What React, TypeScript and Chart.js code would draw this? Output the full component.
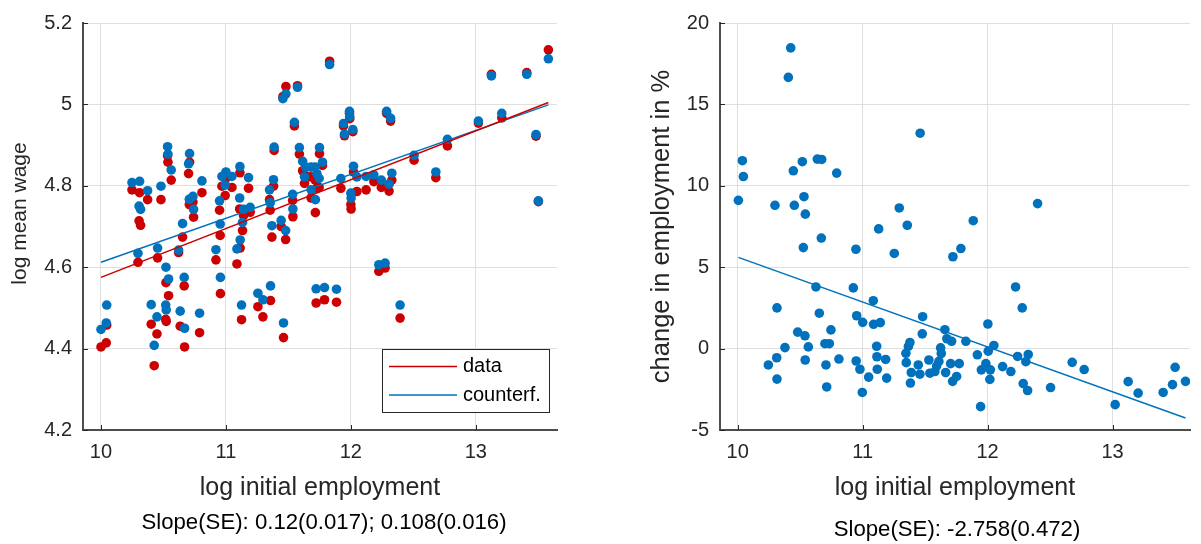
import React, { useEffect, useRef } from 'react';
import { Chart, registerables } from 'chart.js';

Chart.register(...registerables);

const FONT = "'Liberation Sans', Arial, Helvetica, sans-serif";
const TEXT_COLOR = '#262626';
const AXIS_LINE = '#4d4d4d';
const GRID_COLOR = '#dfdfdf';
const RED = 'rgb(204,0,0)';
const BLUE = 'rgb(0,114,189)';

// ---------------- Left panel: log mean wage vs log initial employment
const logEmpLeft = [
  10.000, 10.042, 10.046, 10.248, 10.296, 10.309, 10.305, 10.317, 10.373, 10.402,
  10.426, 10.448, 10.453, 10.480, 10.520, 10.518, 10.522, 10.533, 10.536, 10.541,
  10.562, 10.621, 10.634, 10.653, 10.666, 10.669, 10.709, 10.701, 10.707, 10.736,
  10.741, 10.789, 10.808, 10.920, 10.949, 10.954, 10.956, 10.968, 11.000, 10.994,
  11.048, 11.088, 11.112, 11.110, 11.114, 11.125, 11.133, 11.141, 11.194, 11.181,
  11.256, 11.296, 11.349, 11.354, 11.357, 11.368, 11.381, 11.386, 11.442, 11.461,
  11.478, 11.480, 11.456, 11.534, 11.536, 11.548, 11.573, 11.588, 11.614, 11.629,
  11.638, 11.680, 11.714, 11.728, 11.746, 11.682, 11.716, 11.722, 11.749, 11.773,
  11.789, 11.830, 11.885, 11.920, 11.941, 11.949, 11.989, 11.991, 12.016, 12.000,
  12.002, 12.021, 12.048, 12.122, 12.184, 12.224, 12.244, 12.274, 12.286, 12.306,
  12.318, 12.328, 12.394, 12.506, 12.680, 12.773, 13.021, 13.125, 13.208, 13.408,
  13.482, 13.501, 13.581,
];

const wageData = [
  4.404, 4.414, 4.458, 4.790, 4.612, 4.783, 4.714, 4.703, 4.766, 4.460,
  4.358, 4.436, 4.623, 4.766, 4.562, 4.472, 4.467, 4.874, 4.858, 4.530,
  4.814, 4.636, 4.455, 4.674, 4.554, 4.404, 4.858, 4.830, 4.754, 4.760,
  4.723, 4.439, 4.783, 4.618, 4.740, 4.678, 4.535, 4.799, 4.818, 4.776,
  4.796, 4.608, 4.832, 4.743, 4.647, 4.471, 4.690, 4.727, 4.735, 4.794,
  4.503, 4.478, 4.766, 4.740, 4.518, 4.674, 4.799, 4.887, 4.700, 4.427,
  4.668, 5.044, 5.019, 4.764, 4.724, 4.947, 5.046, 4.878, 4.837, 4.806,
  4.825, 4.822, 4.814, 4.794, 4.796, 4.770, 4.734, 4.512, 4.879, 4.850,
  4.520, 5.106, 4.514, 4.794, 4.947, 4.923, 4.978, 4.965, 4.933, 4.754,
  4.743, 4.834, 4.786, 4.790, 4.810, 4.590, 4.796, 4.598, 4.978, 4.787,
  4.959, 4.814, 4.475, 4.863, 4.820, 4.898, 4.954, 5.074, 4.967, 5.078,
  4.922, 4.761, 5.134,
];

const wageCounterf = [
  4.447, 4.463, 4.507, 4.808, 4.634, 4.811, 4.750, 4.742, 4.788, 4.508,
  4.408, 4.478, 4.647, 4.799, 4.600, 4.507, 4.495, 4.896, 4.878, 4.571,
  4.839, 4.642, 4.492, 4.707, 4.575, 4.450, 4.879, 4.854, 4.767, 4.774,
  4.742, 4.487, 4.812, 4.643, 4.763, 4.706, 4.575, 4.823, 4.834, 4.802,
  4.823, 4.645, 4.847, 4.770, 4.667, 4.507, 4.710, 4.742, 4.747, 4.820,
  4.536, 4.520, 4.790, 4.758, 4.554, 4.702, 4.815, 4.895, 4.715, 4.463,
  4.690, 5.026, 5.014, 4.779, 4.743, 4.956, 5.042, 4.894, 4.860, 4.822,
  4.846, 4.846, 4.846, 4.830, 4.818, 4.790, 4.766, 4.547, 4.894, 4.858,
  4.550, 5.098, 4.546, 4.818, 4.953, 4.927, 4.983, 4.970, 4.938, 4.782,
  4.770, 4.848, 4.822, 4.823, 4.827, 4.606, 4.814, 4.610, 4.983, 4.804,
  4.966, 4.831, 4.507, 4.875, 4.834, 4.914, 4.959, 5.070, 4.978, 5.074,
  4.926, 4.763, 5.112,
];

// fitted lines: [slope, intercept]
const fitData = [0.12, 3.375];
const fitCounterf = [0.108, 3.532];

const leftXTicks = [10, 11, 12, 13];
const leftXTickLabels = ['10', '11', '12', '13'];
const leftYTicks = [4.2, 4.4, 4.6, 4.8, 5.0, 5.2];
const leftYTickLabels = ['4.2', '4.4', '4.6', '4.8', '5', '5.2'];
const leftXRange = [9.856, 13.65];
const leftYRange = [4.2, 5.2];

// ---------------- Right panel: change in employment in %
const logEmpRight = [
  10.005, 10.037, 10.045, 10.245, 10.298, 10.312, 10.314, 10.314, 10.378, 10.405,
  10.424, 10.445, 10.453, 10.480, 10.517, 10.525, 10.530, 10.538, 10.540, 10.541,
  10.565, 10.626, 10.637, 10.653, 10.672, 10.669, 10.698, 10.706, 10.712, 10.733,
  10.746, 10.792, 10.810, 10.925, 10.946, 10.948, 10.952, 10.978, 10.997, 11.000,
  11.048, 11.085, 11.087, 11.112, 11.114, 11.117, 11.128, 11.141, 11.184, 11.192,
  11.253, 11.293, 11.346, 11.349, 11.366, 11.378, 11.389, 11.382, 11.357, 11.445,
  11.458, 11.460, 11.480, 11.477, 11.530, 11.538, 11.578, 11.592, 11.610, 11.624,
  11.629, 11.658, 11.664, 11.674, 11.704, 11.712, 11.720, 11.722, 11.752, 11.773,
  11.786, 11.826, 11.885, 11.918, 11.944, 11.950, 11.986, 12.002, 12.005, 12.022,
  12.018, 12.050, 12.120, 12.186, 12.224, 12.240, 12.277, 12.285, 12.306, 12.320,
  12.325, 12.400, 12.504, 12.677, 12.773, 13.021, 13.125, 13.205, 13.405, 13.480,
  13.501, 13.584,
];

const empChange = [
  9.105, 11.54, 10.57, -1.003, 8.803, -0.562, -1.873, 2.501, 0.060, 16.66,
  18.47, 10.92, 8.803, 1.009, 11.48, 6.205, 9.329, 0.785, -0.701, 8.259,
  0.103, 3.788, 11.64, 2.175, 11.62, 6.791, 0.302, -1.003, -2.356, 0.302,
  1.148, 10.78, -0.640, 3.728, 6.102, -0.761, 2.018, -1.269, -2.695, 1.613,
  -1.752, 2.942, 1.492, 0.145, -0.501, -1.269, 7.353, 1.595, -0.665, -1.813,
  5.843, 8.640, -0.290, -0.864, 0.133, 0.375, -1.468, -2.115, 7.577, -1.003,
  -1.571, 13.23, 1.958, 0.906, -0.701, -1.511, -1.408, -1.075, -0.785, 0.042,
  -0.302, 1.160, -1.468, 0.604, -0.924, 0.447, -2.012, 5.643, -1.710, -0.924,
  6.145, 0.447, 7.855, -0.381, -3.565, -1.305, -0.924, 1.511, -0.157, -1.305,
  -1.891, 0.193, -1.106, -1.408, 3.788, -0.483, 2.501, -2.151, -0.804, -2.574,
  -0.363, 8.906, -2.393, -0.846, -1.287, -3.444, -2.030, -2.737, -2.695, -2.211,
  -1.148, -2.012,
];

const fitChange = [-2.758, 33.2];

const rightXTicks = [10, 11, 12, 13];
const rightXTickLabels = ['10', '11', '12', '13'];
const rightYTicks = [-5, 0, 5, 10, 15, 20];
const rightYTickLabels = ['-5', '0', '5', '10', '15', '20'];
const rightXRange = [9.858, 13.62];
const rightYRange = [-5, 20];

const slopeTextLeft = 'Slope(SE): 0.12(0.017); 0.108(0.016)';
const slopeTextRight = 'Slope(SE): -2.758(0.472)';

// ---------------- helpers
function toPoints(xs: number[], ys: number[]) {
  return xs.map((x, i) => ({ x, y: ys[i] }));
}

function fitLine(xs: number[], fit: number[]) {
  const lo = Math.min(...xs);
  const hi = Math.max(...xs);
  return [
    { x: lo, y: fit[1] + fit[0] * lo },
    { x: hi, y: fit[1] + fit[0] * hi },
  ];
}

const axisTicksPlugin = {
  id: 'axisTicks',
  afterDraw(chart: any) {
    const { ctx, chartArea, scales } = chart;
    ctx.save();
    ctx.strokeStyle = TEXT_COLOR;
    ctx.lineWidth = 1;
    scales.x.ticks.forEach((t: any) => {
      const px = Math.round(scales.x.getPixelForValue(t.value)) + 0.5;
      ctx.beginPath();
      ctx.moveTo(px, chartArea.bottom);
      ctx.lineTo(px, chartArea.bottom - 5);
      ctx.stroke();
    });
    scales.y.ticks.forEach((t: any) => {
      const py = Math.round(scales.y.getPixelForValue(t.value)) + 0.5;
      ctx.beginPath();
      ctx.moveTo(chartArea.left, py);
      ctx.lineTo(chartArea.left + 5, py);
      ctx.stroke();
    });
    ctx.restore();
  },
};

// vertical axis title drawn with an offset from the axis centre
const sideTitlePlugin = {
  id: 'sideTitle',
  afterDraw(chart: any, _args: any, opts: any) {
    if (!opts || !opts.display) return;
    const { ctx, chartArea } = chart;
    const cy = (chartArea.top + chartArea.bottom) / 2 + opts.shift;
    ctx.save();
    ctx.translate(opts.x, cy);
    ctx.rotate(-Math.PI / 2);
    ctx.fillStyle = TEXT_COLOR;
    ctx.font = `${opts.size}px ${FONT}`;
    ctx.textAlign = 'center';
    ctx.textBaseline = 'middle';
    ctx.fillText(opts.text, 0, 0);
    ctx.restore();
  },
};

const boxLegendPlugin = {
  id: 'boxLegend',
  afterDraw(chart: any, _args: any, opts: any) {
    if (!opts || !opts.display) return;
    const { ctx, chartArea } = chart;
    const items = chart.data.datasets.filter((d: any) => d.inLegend);
    const w = opts.width;
    const h = opts.height;
    const left = chartArea.right - opts.insetRight - w;
    const top = chartArea.bottom - opts.insetBottom - h;
    ctx.save();
    ctx.fillStyle = '#ffffff';
    ctx.fillRect(left, top, w, h);
    ctx.strokeStyle = TEXT_COLOR;
    ctx.lineWidth = 1;
    ctx.strokeRect(Math.round(left) + 0.5, Math.round(top) + 0.5, w - 1, h - 1);
    items.forEach((d: any, i: number) => {
      const cy = top + opts.firstRow + i * opts.rowGap;
      ctx.strokeStyle = d.borderColor;
      ctx.lineWidth = 1.5;
      ctx.beginPath();
      ctx.moveTo(left + opts.lineStart, cy);
      ctx.lineTo(left + opts.lineEnd, cy);
      ctx.stroke();
      ctx.fillStyle = '#000000';
      ctx.font = `${opts.fontSize}px ${FONT}`;
      ctx.textBaseline = 'middle';
      ctx.textAlign = 'left';
      ctx.fillText(d.label, left + opts.textStart, cy);
    });
    ctx.restore();
  },
};

function makeScales(opts: {
  xRange: number[]; yRange: number[];
  xTicks: number[]; xLabels: string[];
  yTicks: number[]; yLabels: string[];
  xTitle: string; yTitle: string; showYTitle: boolean;
  yWidth: number; xHeight: number;
  yTitleSize: number; yTitlePad: number;
  xTitleSize: number; xTitlePad: number;
}) {
  return {
    x: {
      type: 'linear',
      min: opts.xRange[0],
      max: opts.xRange[1],
      afterBuildTicks: (s: any) => { s.ticks = opts.xTicks.map((v) => ({ value: v })); },
      afterFit: (s: any) => { s.height = opts.xHeight; },
      grid: { color: GRID_COLOR, lineWidth: 1, drawTicks: false },
      border: { display: true, color: AXIS_LINE, width: 2 },
      ticks: {
        autoSkip: false, maxRotation: 0, padding: 10, color: TEXT_COLOR,
        font: { family: FONT, size: 20 },
        callback: (_v: any, i: number) => opts.xLabels[i],
      },
      title: {
        display: true, text: opts.xTitle, color: TEXT_COLOR,
        font: { family: FONT, size: opts.xTitleSize },
        padding: { top: 0, bottom: opts.xTitlePad },
      },
    },
    y: {
      type: 'linear',
      min: opts.yRange[0],
      max: opts.yRange[1],
      afterBuildTicks: (s: any) => { s.ticks = opts.yTicks.map((v) => ({ value: v })); },
      afterFit: (s: any) => { s.width = opts.yWidth; },
      grid: { color: GRID_COLOR, lineWidth: 1, drawTicks: false },
      border: { display: true, color: AXIS_LINE, width: 2 },
      ticks: {
        autoSkip: false, padding: 11, color: TEXT_COLOR,
        font: { family: FONT, size: 20 },
        callback: (_v: any, i: number) => opts.yLabels[i],
      },
      title: {
        display: opts.showYTitle, text: opts.yTitle, color: TEXT_COLOR,
        font: { family: FONT, size: opts.yTitleSize },
        padding: { top: opts.yTitlePad, bottom: 0 },
      },
    },
  };
}

function leftConfig(): any {
  return {
    type: 'scatter',
    data: {
      datasets: [
        {
          label: 'data', inLegend: true, data: fitLine(logEmpLeft, fitData),
          showLine: true, borderColor: RED, borderWidth: 1.5, pointRadius: 0, order: 0,
        },
        {
          label: 'counterf.', inLegend: true, data: fitLine(logEmpLeft, fitCounterf),
          showLine: true, borderColor: BLUE, borderWidth: 1.5, pointRadius: 0, order: 0,
        },
        {
          label: 'counterf. points', data: toPoints(logEmpLeft, wageCounterf),
          backgroundColor: BLUE, borderWidth: 0, pointRadius: 4.8, order: 1,
        },
        {
          label: 'data points', data: toPoints(logEmpLeft, wageData),
          backgroundColor: RED, borderWidth: 0, pointRadius: 4.8, order: 2,
        },
      ],
    },
    options: {
      responsive: false,
      animation: false,
      events: [],
      layout: { padding: { top: 16, right: 43, left: 0, bottom: 0 } },
      plugins: {
        legend: { display: false },
        tooltip: { enabled: false },
        boxLegend: {
          display: true, width: 168, height: 64, insetRight: 7, insetBottom: 17,
          firstRow: 17.5, rowGap: 28.5, lineStart: 7, lineEnd: 75, textStart: 81, fontSize: 20,
        },
        sideTitle: { display: true, text: 'log mean wage', size: 21, x: 20, shift: -13 },
      },
      scales: makeScales({
        xRange: leftXRange, yRange: leftYRange,
        xTicks: leftXTicks, xLabels: leftXTickLabels,
        yTicks: leftYTicks, yLabels: leftYTickLabels,
        xTitle: 'log initial employment', yTitle: 'log mean wage', showYTitle: false,
        yWidth: 83, xHeight: 114,
        yTitleSize: 21, yTitlePad: 7,
        xTitleSize: 25, xTitlePad: 41,
      }),
    },
    plugins: [axisTicksPlugin, boxLegendPlugin, sideTitlePlugin],
  };
}

function rightConfig(): any {
  return {
    type: 'scatter',
    data: {
      datasets: [
        {
          label: 'fit', data: fitLine(logEmpRight, fitChange),
          showLine: true, borderColor: BLUE, borderWidth: 1.5, pointRadius: 0, order: 0,
        },
        {
          label: 'change', data: toPoints(logEmpRight, empChange),
          backgroundColor: BLUE, borderWidth: 0, pointRadius: 4.8, order: 1,
        },
      ],
    },
    options: {
      responsive: false,
      animation: false,
      events: [],
      layout: { padding: { top: 16, right: 11, left: 0, bottom: 0 } },
      plugins: {
        legend: { display: false },
        tooltip: { enabled: false },
      },
      scales: makeScales({
        xRange: rightXRange, yRange: rightYRange,
        xTicks: rightXTicks, xLabels: rightXTickLabels,
        yTicks: rightYTicks, yLabels: rightYTickLabels,
        xTitle: 'log initial employment', yTitle: 'change in employment in %', showYTitle: true,
        yWidth: 120, xHeight: 114,
        yTitleSize: 25.5, yTitlePad: 46.5,
        xTitleSize: 25, xTitlePad: 41,
      }),
    },
    plugins: [axisTicksPlugin],
  };
}

function ChartCanvas(props: { config: () => any; width: number; height: number; left: number }) {
  const ref = useRef<HTMLCanvasElement | null>(null);
  useEffect(() => {
    if (!ref.current) return;
    const chart = new Chart(ref.current, props.config());
    return () => chart.destroy();
  }, []);
  return (
    <canvas
      ref={ref}
      width={props.width}
      height={props.height}
      style={{ position: 'absolute', left: props.left, top: 0, width: props.width, height: props.height }}
    />
  );
}

export default function App() {
  const textStyle: React.CSSProperties = {
    position: 'absolute',
    fontFamily: FONT,
    fontSize: 22.2,
    lineHeight: '26px',
    color: '#000',
    textAlign: 'center',
    whiteSpace: 'nowrap',
  };
  return (
    <div style={{ position: 'absolute', left: 0, top: 0, width: 1201, height: 544, background: '#fff', overflow: 'hidden' }}>
      <ChartCanvas config={leftConfig} width={600} height={544} left={0} />
      <ChartCanvas config={rightConfig} width={601} height={544} left={600} />
      <div style={{ ...textStyle, left: 4, width: 640, top: 509 }}>{slopeTextLeft}</div>
      <div style={{ ...textStyle, left: 757, width: 400, top: 516 }}>{slopeTextRight}</div>
    </div>
  );
}
